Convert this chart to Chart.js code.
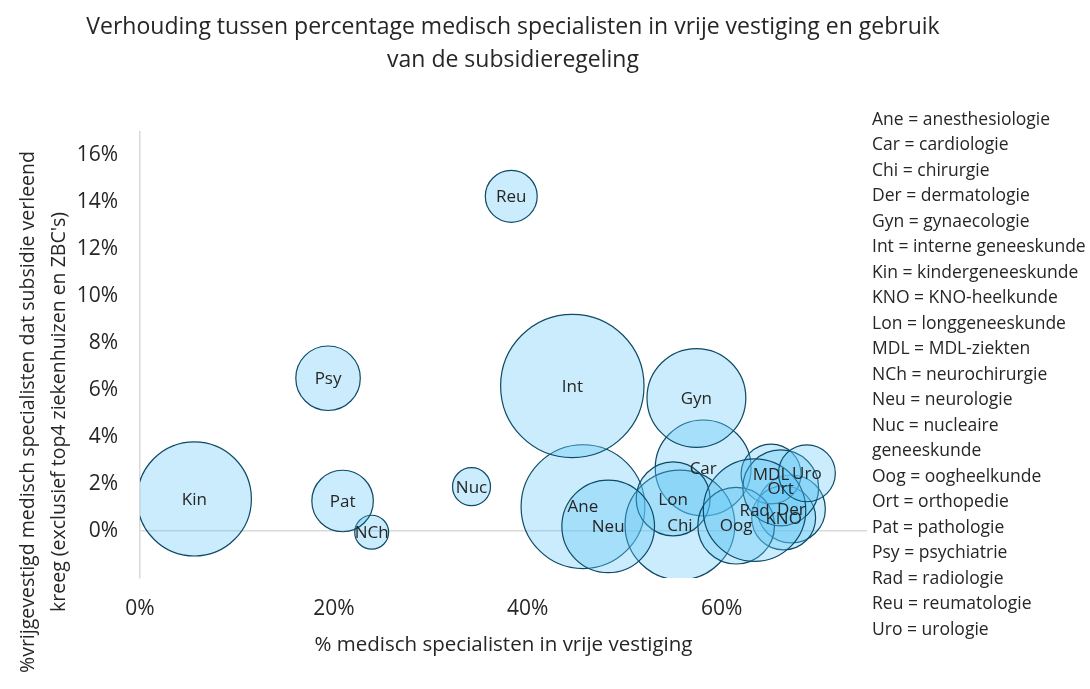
<!DOCTYPE html>
<html>
<head>
<meta charset="utf-8">
<script src="https://cdn.jsdelivr.net/npm/chart.js@4"></script>
<style>
  body { margin: 0; background: #fff; }
  #wrap { width: 1090px; height: 689px; }
</style>
</head>
<body>
<div id="wrap"><canvas id="bubbleChart"></canvas></div>
<script>
// Data
const abbreviations = ['Ane', 'Car', 'Chi', 'Der', 'Gyn', 'Int', 'Kin', 'KNO', 'Lon', 'MDL', 'NCh', 'Neu', 'Nuc', 'Oog', 'Ort', 'Pat', 'Psy', 'Rad', 'Reu', 'Uro'];
const specialties = ['anesthesiologie', 'cardiologie', 'chirurgie', 'dermatologie', 'gynaecologie', 'interne geneeskunde', 'kindergeneeskunde', 'KNO-heelkunde', 'longgeneeskunde', 'MDL-ziekten', 'neurochirurgie', 'neurologie', 'nucleaire geneeskunde', 'oogheelkunde', 'orthopedie', 'pathologie', 'psychiatrie', 'radiologie', 'reumatologie', 'urologie'];
// % medisch specialisten in vrije vestiging
const pctVrijgevestigd = [45.7, 58.1, 55.7, 67.2, 57.4, 44.6, 5.6, 66.4, 55.0, 65.1, 23.9, 48.3, 34.2, 61.5, 66.1, 20.9, 19.4, 63.4, 38.3, 68.8];
// % vrijgevestigde specialisten dat subsidie kreeg
const pctSubsidie = [1.04, 2.69, 0.26, 0.94, 5.67, 6.18, 1.37, 0.56, 1.37, 2.43, -0.05, 0.20, 1.89, 0.23, 1.84, 1.28, 6.51, 0.89, 14.26, 2.46];
// bubble size (estimated number of specialists)
const aantalSpecialisten = [1478, 886, 1163, 445, 942, 1983, 1258, 394, 527, 346, 111, 828, 139, 567, 555, 365, 401, 1012, 260, 312];
const xTicks = [0, 20, 40, 60];
const yTicks = [0, 2, 4, 6, 8, 10, 12, 14, 16];

const chartTitle = ['Verhouding tussen percentage medisch specialisten in vrije vestiging en gebruik', 'van de subsidieregeling'];
const xTitle = '% medisch specialisten in vrije vestiging';
const yTitle = ['%vrijgevestigd medisch specialisten dat subsidie verleend', 'kreeg (exclusief top4 ziekenhuizen en ZBC\'s)'];

const FONT = '"Open Sans", "Noto Sans", sans-serif';
const TEXT = '#262626';

const points = pctVrijgevestigd.map((x, i) => ({
  x: x,
  y: pctSubsidie[i],
  r: 1.61 * Math.sqrt(aantalSpecialisten[i])
}));

// draws bubble labels, titles and the abbreviation list
const textPlugin = {
  id: 'textPlugin',
  afterDatasetsDraw(chart) {
    const ctx = chart.ctx;
    const meta = chart.getDatasetMeta(0);
    ctx.save();
    ctx.fillStyle = TEXT;
    ctx.textAlign = 'center';
    ctx.textBaseline = 'middle';
    ctx.font = '17px ' + FONT;
    meta.data.forEach((el, i) => ctx.fillText(abbreviations[i], el.x, el.y + 1));
    ctx.restore();
  },
  afterDraw(chart) {
    const ctx = chart.ctx;
    const area = chart.chartArea;
    ctx.save();
    ctx.fillStyle = TEXT;
    ctx.textBaseline = 'middle';

    // chart title
    ctx.textAlign = 'center';
    ctx.font = '23px ' + FONT;
    chartTitle.forEach((line, i) => ctx.fillText(line, 513, 27 + i * 33));

    // x axis title
    ctx.font = '20.5px ' + FONT;
    ctx.fillText(xTitle, (area.left + area.right) / 2, 645);

    // y axis title (rotated)
    ctx.font = '19.5px ' + FONT;
    ctx.save();
    ctx.translate(0, 412);
    ctx.rotate(-Math.PI / 2);
    yTitle.forEach((line, i) => ctx.fillText(line, 0, 28 + i * 31));
    ctx.restore();

    // abbreviation list
    ctx.textAlign = 'left';
    ctx.font = '17.5px ' + FONT;
    let y = 120;
    abbreviations.forEach((abbr, i) => {
      const words = (abbr + ' = ' + specialties[i]).split(' ');
      let line = '';
      words.forEach(w => {
        const test = line ? line + ' ' + w : w;
        if (ctx.measureText(test).width > 218 && line) {
          ctx.fillText(line, 872, y);
          y += 25.5;
          line = w;
        } else {
          line = test;
        }
      });
      ctx.fillText(line, 872, y);
      y += 25.5;
    });
    ctx.restore();
  }
};

const ctx = document.getElementById('bubbleChart').getContext('2d');
new Chart(ctx, {
  type: 'bubble',
  data: {
    datasets: [{
      label: 'Specialismen',
      data: points,
      backgroundColor: 'rgba(93, 198, 246, 0.33)',
      borderColor: '#0d4a66',
      borderWidth: 1.2,
      hoverBorderWidth: 1.2
    }]
  },
  options: {
    responsive: true,
    maintainAspectRatio: false,
    animation: false,
    layout: { padding: { top: 132, right: 223, bottom: 0, left: 0 } },
    plugins: {
      legend: { display: false },
      tooltip: { enabled: false }
    },
    scales: {
      x: {
        type: 'linear',
        min: 0,
        max: 75,
        offset: false,
        afterFit: scale => { scale.height = 111; },
        afterBuildTicks: scale => { scale.ticks = xTicks.map(v => ({ value: v })); },
        grid: { display: false, drawTicks: false },
        border: { display: false },
        ticks: {
          padding: 18,
          color: TEXT,
          font: { family: FONT, size: 21 },
          callback: v => v + '%'
        }
      },
      y: {
        type: 'linear',
        min: -2,
        max: 17,
        offset: false,
        afterFit: scale => { scale.width = 140; },
        afterBuildTicks: scale => { scale.ticks = yTicks.map(v => ({ value: v })); },
        grid: {
          drawTicks: false,
          color: c => (c.tick && c.tick.value === 0 ? '#d9d9d9' : 'rgba(0,0,0,0)'),
          lineWidth: 1.5
        },
        border: { display: true, color: '#d9d9d9', width: 1.5 },
        ticks: {
          padding: 22,
          color: TEXT,
          font: { family: FONT, size: 21 },
          callback: v => v + '%'
        }
      }
    }
  },
  plugins: [textPlugin]
});
</script>
</body>
</html>
